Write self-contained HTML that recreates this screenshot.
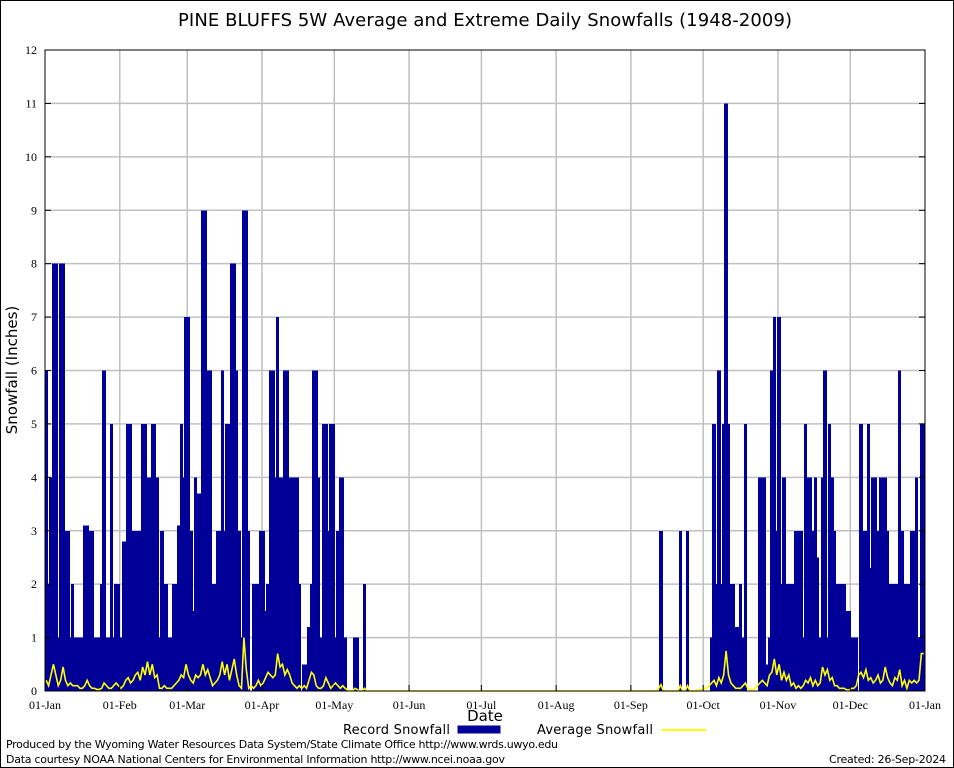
<!DOCTYPE html>
<html><head><meta charset="utf-8"><style>
html,body{margin:0;padding:0;background:#fff}
svg{display:block}
text{font-family:"DejaVu Sans","Liberation Sans",sans-serif}
.tk{font-family:"Liberation Serif","DejaVu Serif",serif;font-size:12px}
</style></head><body>
<svg id="chart" width="954" height="768" viewBox="0 0 954 768">
<rect x="0.5" y="0.5" width="953" height="767" fill="#fff" stroke="#000"/>
<text x="485" y="26" text-anchor="middle" font-size="18" textLength="614">PINE BLUFFS 5W Average and Extreme Daily Snowfalls (1948-2009)</text>
<g id="grid"></g>
<g id="bars" shape-rendering="crispEdges"></g>
<g id="avg"></g>
<g id="axes"></g>
<text transform="translate(17,370) rotate(-90)" text-anchor="middle" font-size="15">Snowfall (Inches)</text>
<text x="485" y="721" text-anchor="middle" font-size="15">Date</text>
<g>
<text x="450" y="734" text-anchor="end" font-size="13" textLength="107">Record Snowfall</text>
<rect x="458" y="726" width="42" height="7" fill="#000099" stroke="#000099"/>
<text x="653" y="734" text-anchor="end" font-size="13" textLength="116">Average Snowfall</text>
<line x1="662" y1="730" x2="706" y2="730" stroke="#ffff00" stroke-width="2"/>
</g>
<text x="6" y="748" font-size="11" textLength="552">Produced by the Wyoming Water Resources Data System/State Climate Office http://www.wrds.uwyo.edu</text>
<text x="6" y="763" font-size="11" textLength="499">Data courtesy NOAA National Centers for Environmental Information http://www.ncei.noaa.gov</text>
<text x="946" y="763" text-anchor="end" font-size="11" textLength="117">Created: 26-Sep-2024</text>
</svg>
<script>
const monthLabels=["01-Jan","01-Feb","01-Mar","01-Apr","01-May","01-Jun","01-Jul","01-Aug","01-Sep","01-Oct","01-Nov","01-Dec","01-Jan"];
const monthStartDays=[0,31,59,90,120,151,181,212,243,273,304,334,365];
const yTicks=[0,1,2,3,4,5,6,7,8,9,10,11,12];
const recordSpring=[6,2,4,8,8,1,8,8,3,3, 1,2,1,1,1,1,3.1,3.1,3,3, 1,1,1,2,6,1,1,5,1,2, 2,1,2.8,2.8,5,5,3,3,3,3, 5,5,4,4,5,5,4,1,3,2, 2,1,1,2,2,3.1,5,4,7,7, 3,1.5,4,3.7,3.7,9,9,6,6,2, 2,3,3,6,3,5,5,8,8,6, 3,1,9,9,3,0,2,2,2,3, 3,1.5,2,6,6,4,7,4,4,6, 6,4,4,4,4,2,0,0.5,0.5,1.2, 2,6,6,4,1,5,5,3,5,5, 1,3,4,4,1,0,0,0,1,1, 0,0,2];
const recordSummer=[[255,3],[263,3],[266,3]];
const recordFall=[1,5,2,6,2,5,11,5,2,2, 1.2,1.2,2,1,5,0,0,0,0,0, 4,4,4,0.5,1,6,7,3,7,2, 4,2,2,2,2,3,3,3,1,5, 4,4,3,4,2.5,1,4,6,1,5, 4,3,2,2,2,2,1.5,1.5,1,1, 1,0,5,3,3,5,2.3,4,4,3, 4,4,4,3,2,2,2,2,6,3, 2,2,2,3,3,4,1,5,5];
const avgSpring=[.2,.1,.3,.5,.3,.1,.2,.45,.2,.1, .15,.1,.1,.1,.05,.05,.1,.2,.1,.05, .05,.03,.03,.05,.15,.1,.05,.05,.1,.15, .1,.05,.1,.2,.25,.15,.2,.3,.35,.2, .45,.3,.55,.3,.5,.25,.3,.05,.05,.1, .05,.05,.05,.1,.15,.2,.3,.25,.5,.3, .2,.15,.3,.25,.3,.5,.3,.4,.25,.1, .15,.2,.3,.55,.3,.5,.2,.4,.6,.3, .1,.05,1.0,.4,.05,.1,.05,.1,.2,.1, .15,.25,.35,.3,.25,.3,.7,.45,.5,.3, .4,.3,.15,.1,.05,.1,.05,.1,.05,.2, .35,.3,.1,.05,.05,.1,.25,.15,.05,.1, .15,.1,.05,.1,.05,.02,0,0,.05,.03, 0,0,.05];
const avgSummer=[[254,.05],[255,.12],[263,.1],[266,.1]];
const avgFall=[.02,.02,.03,.05,.05,.1,.15,.2,.1,.25, .15,.3,.75,.3,.15,.1,.05,.05,.05,.1, .15,.05,.03,.02,.05,.1,.15,.2,.15,.1, .3,.35,.6,.3,.5,.2,.35,.2,.3,.1, .15,.05,.1,.05,.1,.2,.15,.25,.1,.2, .1,.15,.45,.3,.4,.2,.25,.1,.1,.05, .05,.05,.02,.02,.05,.05,.1,.3,.35,.25, .4,.2,.25,.15,.2,.3,.15,.2,.45,.25, .15,.1,.25,.2,.4,.1,.2,.05,.2,.15, .2,.15,.2,.7,.7];
const FALL_START=276, AVG_FALL_START=270;

const NS="http://www.w3.org/2000/svg";
const L=45,R=925,T=50,B=691,DAYS=365;
const dw=(R-L)/DAYS;
function xScale(d){return L+d*dw;}
function yScale(v){return B-(v/12)*(B-T);}
function mk(tag,attrs,parent){const e=document.createElementNS(NS,tag);for(const k in attrs)e.setAttribute(k,attrs[k]);parent.appendChild(e);return e;}

const record=new Array(DAYS).fill(0);
recordSpring.forEach((v,i)=>record[i]=v);
recordSummer.forEach(p=>record[p[0]]=p[1]);
recordFall.forEach((v,i)=>record[FALL_START+i]=v);
const avg=new Array(DAYS).fill(0);
avgSpring.forEach((v,i)=>avg[i]=v);
avgSummer.forEach(p=>avg[p[0]]=p[1]);
avgFall.forEach((v,i)=>avg[AVG_FALL_START+i]=v);

const grid=document.getElementById('grid');
yTicks.forEach(t=>{
  if(t>0&&t<12){const g=mk('line',{x1:L,x2:R,y1:yScale(t),y2:yScale(t),stroke:'#c0c0c0','stroke-width':1.5},grid);
  
  }
});
monthStartDays.forEach((d,i)=>{
  if(i>0&&i<12){const g=mk('line',{x1:xScale(d),x2:xScale(d),y1:T,y2:B,stroke:'#c0c0c0','stroke-width':1.5},grid);
  
  }
});

const bars=document.getElementById('bars');
record.forEach((v,d)=>{
  if(v<=0)return;
  const x0=Math.floor(xScale(d)), x1=Math.ceil(xScale(d+1));
  const r=mk('rect',{x:x0,y:yScale(v),width:x1-x0,height:B-yScale(v),fill:'#000099'},bars);
  
  
});

const pts=avg.map((v,d)=>(xScale(d)+dw/2).toFixed(2)+','+yScale(v).toFixed(2)).join(' ');
const pl=mk('polyline',{points:pts,fill:'none',stroke:'#ffff00','stroke-width':1.6},document.getElementById('avg'));



const axes=document.getElementById('axes');
const frame=mk('rect',{x:L,y:T,width:R-L,height:B-T,fill:'none',stroke:'#000','stroke-width':1},axes);


yTicks.forEach(t=>{
  const y=yScale(t);
  mk('line',{x1:L,x2:L+6,y1:y,y2:y,stroke:'#000'},axes);
  mk('line',{x1:R-6,x2:R,y1:y,y2:y,stroke:'#000'},axes);
  const tx=mk('text',{x:L-8,y:y+4,'text-anchor':'end',class:'tk'},axes);
  tx.textContent=t;
  
  
});
monthStartDays.forEach((d,i)=>{
  const x=xScale(d);
  mk('line',{x1:x,x2:x,y1:B,y2:B-6,stroke:'#000'},axes);
  const tx=mk('text',{x:x,y:709,'text-anchor':'middle',class:'tk'},axes);
  tx.textContent=monthLabels[i];
  
  
});
</script>
</body></html>
